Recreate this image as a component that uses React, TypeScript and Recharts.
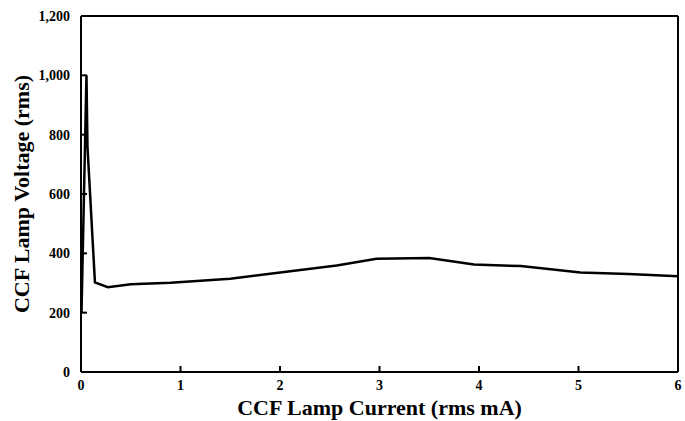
import { LineChart, Line, XAxis, YAxis, ReferenceLine } from 'recharts'

// CCF lamp current (rms mA) vs lamp voltage (rms)
const current = [0.005, 0.055, 0.065, 0.14, 0.27, 0.5, 0.9, 1.5, 1.9, 2.57, 2.97, 3.5, 3.95, 4.42, 5.02, 5.5, 6]
const voltage = [200, 1000, 760, 302, 286, 296, 301, 314, 331, 359, 382, 384, 362, 357, 335, 330, 323]

const xTicks = [0, 1, 2, 3, 4, 5, 6]
const yTicks = [0, 200, 400, 600, 800, 1000, 1200]

const data = current.map((c, i) => ({ current: c, voltage: voltage[i] }))

const font = '"Liberation Serif", "Times New Roman", serif'
const tickStyle = { fontFamily: font, fontWeight: 700, fontSize: 14, fill: '#000' }
const titleStyle = { fontFamily: font, fontWeight: 700, fontSize: 22, fill: '#000' }

const YTitle = ({ viewBox }: any) => {
  const cx = 21
  const cy = viewBox.y + viewBox.height / 2
  return (
    <text
      x={cx}
      y={cy}
      transform={`rotate(-90, ${cx}, ${cy})`}
      textAnchor="middle"
      dominantBaseline="central"
      style={titleStyle}
    >
      CCF Lamp Voltage (rms)
    </text>
  )
}

export default function App() {
  return (
    <div style={{ position: 'absolute', left: 0, top: 0, background: '#fff' }}>
      <LineChart width={685} height={421} data={data} margin={{ top: 16, right: 7, left: 0, bottom: 0 }}>
        <XAxis
          dataKey="current"
          type="number"
          domain={[0, 6]}
          ticks={xTicks}
          height={49}
          stroke="#000"
          strokeWidth={2}
          tickSize={-6}
          tickMargin={14}
          tick={tickStyle}
          label={{
            value: 'CCF Lamp Current (rms mA)',
            position: 'insideBottom',
            offset: 6,
            style: titleStyle,
          }}
        />
        <YAxis
          dataKey="voltage"
          type="number"
          domain={[0, 1200]}
          ticks={yTicks}
          width={81}
          stroke="#000"
          strokeWidth={2}
          tickSize={-6}
          tickMargin={17}
          tick={tickStyle}
          tickFormatter={(v) => Number(v).toLocaleString('en-US')}
          label={<YTitle />}
        />
        <ReferenceLine y={1200} stroke="#000" strokeWidth={2} />
        <ReferenceLine x={6} stroke="#000" strokeWidth={2} />
        <Line
          type="linear"
          dataKey="voltage"
          stroke="#000"
          strokeWidth={2.5}
          dot={false}
          isAnimationActive={false}
        />
      </LineChart>
    </div>
  )
}
